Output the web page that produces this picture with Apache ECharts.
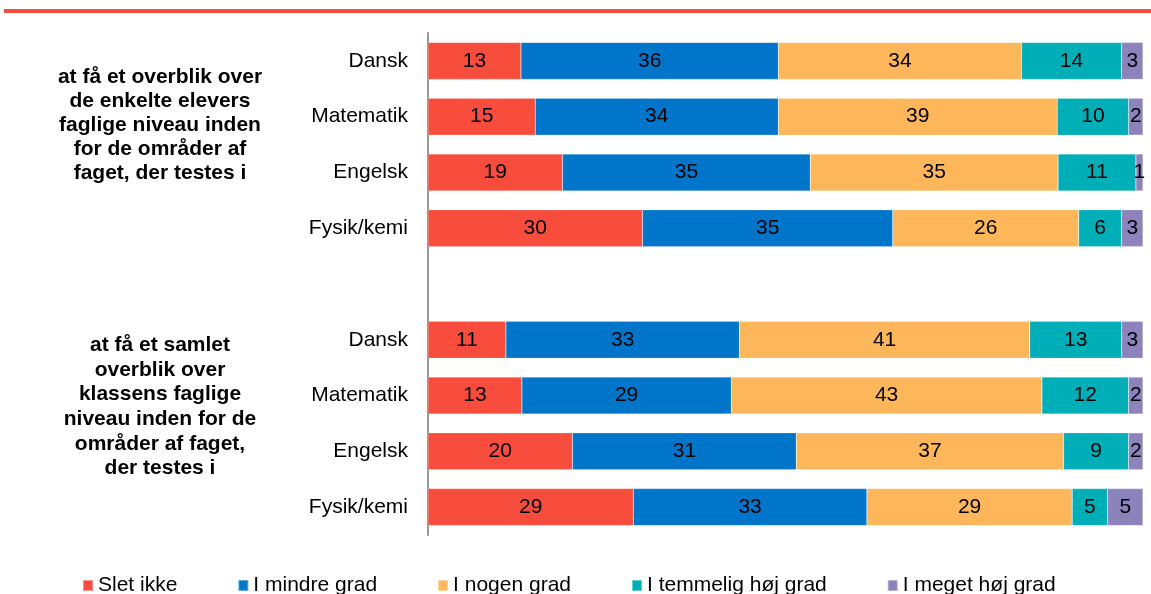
<!DOCTYPE html>
<html>
<head>
<meta charset="utf-8">
<script src="https://cdn.jsdelivr.net/npm/echarts@6/dist/echarts.min.js"></script>
<style>
  html, body { margin: 0; padding: 0; background: #fff; }
  #chart { width: 1151px; height: 594px; }
</style>
</head>
<body>
<div id="chart"></div>
<script>
// categories top to bottom, blank slot between the two groups
var subjects = ["Dansk", "Matematik", "Engelsk", "Fysik/kemi", "", "Dansk", "Matematik", "Engelsk", "Fysik/kemi"];

var seriesNames = ["Slet ikke", "I mindre grad", "I nogen grad", "I temmelig høj grad", "I meget høj grad"];

// values per series, in category order (null = blank slot)
var sletIkke     = [13, 15, 19, 30, null, 11, 13, 20, 29];
var iMindreGrad  = [36, 34, 35, 35, null, 33, 29, 31, 33];
var iNogenGrad   = [34, 39, 35, 26, null, 41, 43, 37, 29];
var iTemmeligHoj = [14, 10, 11, 6,  null, 13, 12, 9,  5];
var iMegetHoj    = [3,  2,  1,  3,  null, 3,  2,  2,  5];

var groupLabels = [
  "at få et overblik over\nde enkelte elevers\nfaglige niveau inden\nfor de områder af\nfaget, der testes i",
  "at få et samlet\noverblik over\nklassens faglige\nniveau inden for de\nområder af faget,\nder testes i"
];

var colors = ["#F84C3C", "#0075CA", "#FDB75A", "#00AEB8", "#8C82BC"];

var raw = [sletIkke, iMindreGrad, iNogenGrad, iTemmeligHoj, iMegetHoj];

// rows are rounded, so scale each row to a full 100 bar
var totals = subjects.map(function (s, i) {
  var t = 0;
  raw.forEach(function (arr) { t += arr[i] || 0; });
  return t;
});

var series = raw.map(function (arr, k) {
  return {
    name: seriesNames[k],
    type: "bar",
    stack: "total",
    barWidth: 37,
    color: colors[k],
    itemStyle: { borderColor: "rgba(255,255,255,0.4)", borderWidth: 0.5 },
    label: {
      show: true,
      position: "inside",
      color: "#000",
      fontSize: 21,
      fontFamily: "Liberation Sans, Arial, sans-serif",
      formatter: function (p) { return arr[p.dataIndex]; }
    },
    data: arr.map(function (v, i) {
      return v === null ? "-" : v * 100 / totals[i];
    })
  };
});

var chart = echarts.init(document.getElementById("chart"));
chart.setOption({
  animation: false,
  textStyle: { fontFamily: "Liberation Sans, Arial, sans-serif" },
  grid: { left: 428, right: 8, top: 33, bottom: 59, containLabel: false },
  legend: {
    left: 82,
    top: 575,
    padding: 0,
    itemWidth: 10,
    itemHeight: 11,
    itemGap: 60,
    icon: "rect",
    textStyle: { fontSize: 21, color: "#000" },
    data: seriesNames
  },
  xAxis: {
    type: "value",
    min: 0,
    max: 100,
    show: false
  },
  yAxis: {
    type: "category",
    inverse: true,
    data: subjects,
    axisLine: { lineStyle: { color: "#999", width: 2 } },
    axisTick: { show: false },
    axisLabel: { fontSize: 21, color: "#000", margin: 20 }
  },
  graphic: [
    {
      type: "rect",
      shape: { x: 4, y: 9, width: 1147, height: 4 },
      style: { fill: "#F84C3C" }
    },
    {
      type: "text",
      x: 160,
      y: 125,
      style: {
        text: groupLabels[0],
        fontSize: 21,
        fontWeight: "bold",
        lineHeight: 24,
        fill: "#000",
        align: "center",
        verticalAlign: "middle",
        fontFamily: "Liberation Sans, Arial, sans-serif"
      }
    },
    {
      type: "text",
      x: 160,
      y: 407,
      style: {
        text: groupLabels[1],
        fontSize: 21,
        fontWeight: "bold",
        lineHeight: 24.6,
        fill: "#000",
        align: "center",
        verticalAlign: "middle",
        fontFamily: "Liberation Sans, Arial, sans-serif"
      }
    }
  ],
  series: series
});
</script>
</body>
</html>
